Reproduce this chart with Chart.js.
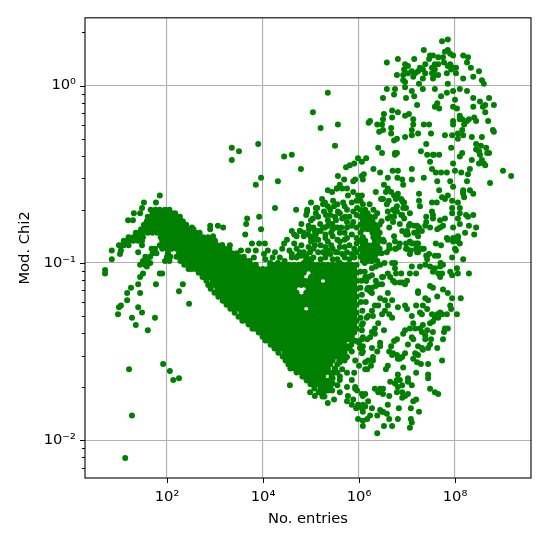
<!DOCTYPE html>
<html>
<head>
<meta charset="utf-8">
<style>html,body{margin:0;padding:0;background:#fff}canvas{display:block}</style>
<script src="https://cdn.jsdelivr.net/npm/chart.js@4"></script>
</head>
<body>
<canvas id="c" width="548" height="548"></canvas>
<script>
// All readings are log10(entries), log10(chi2).
const xAxisTicks = [1e2, 1e4, 1e6, 1e8];
const yAxisTicks = [1e-2, 1e-1, 1e0];
const yMinorTicks = [7e-3,8e-3,9e-3,2e-2,3e-2,4e-2,5e-2,6e-2,7e-2,8e-2,9e-2,.2,.3,.4,.5,.6,.7,.8,.9,2];
const xLabels = {2:"10²",4:"10⁴",6:"10⁶",8:"10⁸"};
const yLabels = {"-2":"10⁻²","-1":"10⁻¹","0":"10⁰"};

// The solid mass: individual points cannot be read there, so it is read row by row.
const solidRows = [
[-.70,[1.66,1.76,1.85,1.96,2.05]],
[-.72,[1.7,1.81,1.9,2.0,2.1,2.17]],
[-.74,[1.6,1.7,1.8,1.9,2.0,2.1,2.2,2.27]],
[-.765,[1.58,1.65,1.75,1.85,1.95,2.05,2.15,2.25,2.33]],
[-.785,[1.52,1.6,1.7,1.8,1.9,2.0,2.1,2.2,2.3,2.4]],
[-.81,[1.46,1.55,1.65,1.75,1.85,1.95,2.05,2.15,2.25,2.35,2.45,2.55]],
[-.83,[1.35,1.42,1.5,1.6,1.7,1.8,1.9,2,2.1,2.2,2.3,2.4,2.5,2.6,2.68]],
[-.855,[1.2,1.3,1.4,1.5,1.87,1.95,2.05,2.15,2.25,2.35,2.45,2.55,2.65,2.75,2.85]],
[-.875,[1.1,1.2,1.3,1.4,1.48,1.9,2.0,2.1,2.2,2.3,2.4,2.5,2.6,2.7,2.8,2.9,3.0]],
[-.90,[1.0,1.1,1.2,1.85,1.95,2.05,2.15,2.25,2.35,2.45,2.55,2.65,2.75,2.85,2.95,3.05,3.15]],
[-.92,[1.68,1.75,1.9,2.0,2.1,2.2,2.3,2.4,2.5,2.6,2.7,2.8,2.9,3.0,3.1,3.2,3.3]],
[-.945,[1.7,1.78,2.02,2.25,2.35,2.45,2.55,2.65,2.75,2.85,2.95,3.05,3.15,3.25,3.35,3.45]],
[-.965,[1.55,1.65,2.0,2.07,2.2,2.3,2.4,2.5,2.6,2.7,2.8,2.9,3.0,3.1,3.2,3.3,3.4,3.5,3.6]],
[-.99,[1.5,1.6,1.96,2.05,2.28,2.35,2.45,2.55,2.65,2.75,2.85,2.95,3.05,3.15,3.25,3.35,3.45,3.55,3.65,3.72]],
[-1.01,[1.44,1.54,2.36,2.45,2.55,2.65,2.75,2.85,2.95,3.05,3.15,3.25,3.35,3.45,3.55,3.65,3.75,3.85,4.15,4.25,4.36,4.45,4.55,4.65,4.75,4.86,4.95,5.05,5.15,5.25,5.35,5.45,5.55,5.65,5.75,5.85,5.95]],
[-1.034,[2.45,2.52,2.6,2.7,2.8,2.9,3.0,3.1,3.2,3.3,3.4,3.5,3.6,3.7,3.8,3.9,4.0,4.1,4.2,4.3,4.4,4.5,4.6,4.7,4.8,4.9,5.0,5.1,5.2,5.3,5.4,5.5,5.6,5.7,5.8,5.9]],
[-1.056,[2.66,2.75,2.85,2.95,3.05,3.15,3.25,3.35,3.45,3.55,3.65,3.75,3.85,3.95,4.05,4.15,4.25,4.35,4.45,4.55,4.65,4.75,4.85,5.05,5.15,5.25,5.35,5.45,5.55,5.65,5.75,5.85,5.95]],
[-1.079,[2.74,2.8,2.9,3.0,3.1,3.2,3.3,3.4,3.5,3.6,3.7,3.8,3.9,4.0,4.1,4.2,4.3,4.4,4.5,4.6,4.7,4.8,5.0,5.1,5.2,5.3,5.4,5.5,5.6,5.7,5.8,5.9]],
[-1.101,[2.82,2.95,3.05,3.15,3.25,3.35,3.45,3.55,3.65,3.75,3.85,3.95,4.05,4.15,4.25,4.35,4.45,4.55,4.65,4.75,4.85,4.95,5.05,5.15,5.35,5.45,5.55,5.65,5.75,5.85,5.95]],
[-1.124,[2.86,2.9,3.0,3.1,3.2,3.3,3.4,3.5,3.6,3.7,3.8,3.9,4.0,4.1,4.2,4.3,4.4,4.5,4.6,4.7,4.8,4.9,5.0,5.1,5.2,5.3,5.4,5.5,5.6,5.7,5.8,5.9]],
[-1.146,[2.91,3.05,3.15,3.25,3.35,3.45,3.55,3.65,3.75,3.85,3.95,4.05,4.15,4.25,4.35,4.45,4.55,4.65,4.95,5.05,5.15,5.25,5.35,5.45,5.55,5.65,5.75,5.85,5.95]],
[-1.169,[2.99,3.1,3.2,3.3,3.4,3.5,3.6,3.7,3.8,3.9,4.0,4.1,4.2,4.3,4.4,4.5,4.6,4.7,4.9,5.0,5.1,5.2,5.3,5.4,5.5,5.6,5.7,5.8,5.9]],
[-1.191,[3.07,3.15,3.25,3.35,3.45,3.55,3.65,3.75,3.85,3.95,4.05,4.15,4.25,4.35,4.45,4.55,4.65,4.75,4.85,4.95,5.05,5.15,5.25,5.35,5.45,5.55,5.65,5.75,5.85,5.95]],
[-1.213,[3.16,3.2,3.3,3.4,3.5,3.6,3.7,3.8,3.9,4.0,4.1,4.2,4.3,4.4,4.5,4.6,4.7,4.8,4.9,5.0,5.1,5.2,5.3,5.4,5.5,5.6,5.7,5.8,5.9]],
[-1.236,[3.24,3.35,3.45,3.55,3.65,3.75,3.85,3.95,4.05,4.15,4.25,4.35,4.45,4.55,4.65,4.75,4.85,4.95,5.05,5.15,5.25,5.35,5.45,5.55,5.65,5.75,5.85,5.95]],
[-1.258,[3.32,3.4,3.5,3.6,3.7,3.8,3.9,4.0,4.1,4.2,4.3,4.4,4.5,4.6,4.7,4.8,5.0,5.1,5.2,5.3,5.4,5.5,5.6,5.7,5.8,5.9]],
[-1.281,[3.41,3.55,3.65,3.75,3.85,3.95,4.05,4.15,4.25,4.35,4.45,4.55,4.65,4.75,4.85,4.95,5.05,5.15,5.25,5.35,5.45,5.55,5.65,5.75,5.85,5.95]],
[-1.303,[3.49,3.6,3.7,3.8,3.9,4.0,4.1,4.2,4.3,4.4,4.5,4.6,4.7,4.8,4.9,5.0,5.1,5.2,5.3,5.4,5.5,5.6,5.7,5.8,5.9]],
[-1.326,[3.57,3.65,3.75,3.85,3.95,4.05,4.15,4.25,4.35,4.45,4.55,4.65,4.75,4.85,4.95,5.05,5.15,5.25,5.35,5.45,5.55,5.65,5.75,5.85,5.95]],
[-1.348,[3.7,3.8,3.9,4.0,4.1,4.2,4.3,4.4,4.5,4.6,4.7,4.8,4.9,5.0,5.1,5.2,5.3,5.4,5.5,5.6,5.7,5.8,5.9]],
[-1.371,[3.78,3.85,3.95,4.05,4.15,4.25,4.35,4.45,4.55,4.65,4.75,4.85,4.95,5.05,5.15,5.25,5.35,5.45,5.55,5.65,5.75,5.85,5.95]],
[-1.393,[3.91,4.0,4.1,4.2,4.3,4.4,4.5,4.6,4.7,4.8,4.9,5.0,5.1,5.2,5.3,5.4,5.5,5.6,5.7,5.8,5.9]],
[-1.416,[3.99,4.05,4.15,4.25,4.35,4.45,4.55,4.65,4.75,4.85,4.95,5.05,5.15,5.25,5.35,5.45,5.55,5.65,5.75,5.85]],
[-1.438,[4.05,4.1,4.2,4.3,4.4,4.5,4.6,4.7,4.8,4.9,5.0,5.1,5.2,5.3,5.4,5.5,5.6,5.7,5.9]],
[-1.461,[4.16,4.25,4.35,4.45,4.55,4.65,4.75,4.85,4.95,5.05,5.15,5.25,5.35,5.45,5.55,5.65,5.84]],
[-1.483,[4.24,4.3,4.4,4.5,4.6,4.7,4.8,4.9,5.0,5.1,5.2,5.3,5.4,5.5,5.6,5.8]],
[-1.506,[4.32,4.45,4.55,4.65,4.75,4.85,4.95,5.05,5.15,5.25,5.35,5.45,5.55,5.7]],
[-1.528,[4.41,4.5,4.6,4.7,4.8,4.9,5.0,5.1,5.2,5.3,5.4,5.5,5.64]],
[-1.551,[4.47,4.55,4.65,4.75,4.85,4.95,5.05,5.15,5.25,5.35,5.45,5.59]],
[-1.573,[4.53,4.6,4.7,4.8,4.9,5.0,5.1,5.2,5.3,5.4,5.55]],
[-1.596,[4.57,4.65,4.75,4.85,4.95,5.05,5.15,5.25,5.35,5.5]],
[-1.618,[4.7,4.8,4.9,5.0,5.1,5.2,5.3,5.4,5.49]],
[-1.64,[4.82,4.85,4.95,5.05,5.15,5.25,5.43]],
[-1.663,[4.91,5.0,5.1,5.2,5.3,5.39]],
[-1.685,[4.99,5.05,5.15,5.25,5.34]],
[-1.708,[5.07,5.2,5.3]],
[-1.73,[5.16,5.26]],
[-1.753,[5.24,5.28]],
// the column just right of 10^6
[-.65,[6.03]],
[-.67,[6.08,6.22]],
[-.70,[6.03,6.13,6.3]],
[-.72,[6.08,6.18,6.38]],
[-.74,[6.03,6.13,6.23,6.33]],
[-.765,[6.08,6.18,6.28,6.47]],
[-.785,[6.03,6.13,6.23,6.33,6.43]],
[-.81,[6.08,6.18,6.28,6.38]],
[-.83,[6.03,6.28,6.33,6.43]],
[-.855,[6.08,6.3,6.4]],
[-.875,[6.03,6.13,6.33,6.45]],
[-.90,[6.08,6.18,6.28,6.38]],
[-.92,[6.03,6.13,6.23,6.33,6.43]],
[-.945,[6.08,6.18,6.28,6.38,6.47]],
[-.965,[6.03,6.13,6.23,6.33]],
[-.99,[6.08,6.18,6.28,6.38]],
[-1.05,[6.03,6.12]],[-1.1,[6.05,6.15]],[-1.14,[6.03]],[-1.18,[6.06]],[-1.22,[6.04,6.14]],[-1.27,[6.07]],[-1.31,[6.03,6.16]],[-1.35,[6.06]]
];

const leftWing = [[1.85,-.62],[1.77,-.66],[1.52,-.66],[1.48,-.69],[1.31,-.72],[1.44,-.72],[1.19,-.76],[1.29,-.76],
[.85,-.93],[.85,-.98],[.71,-1.04],[.71,-1.06],[1.06,-.90],[1.04,-.93],[1.02,-.95],[1.4,-.94],[1.48,-.90],
[1.85,-1.06],[1.9,-1.06],[1.77,-1.12],[1.44,-1.17],[2.33,-1.12],[2.25,-1.16],[2.46,-1.23],[1.4,-1.25],[1.48,-1.28],
[1.27,-1.31],[1.35,-1.35],[1.75,-1.31],[1.6,-1.38],[1.25,-1.14],[1.17,-1.17],[1.17,-1.21],[1.04,-1.24],[1,-1.25],[.98,-1.29],
[1.4,-1.12],[1.44,-1.08],[1.5,-1.06],[1.58,-1.02],[1.65,-1.0],[1.92,-1.57],[1.21,-1.60],[2.06,-1.61],[2.13,-1.66],[2.25,-1.65],[1.27,-1.86],[1.13,-2.10]];

const midSparse = [[2.9,-.79],[2.9,-.81],[3.06,-.79],[3.17,-.8],[2.96,-.85],[3.15,-.9],[3.31,-.9],[2.52,-.8],
[5.35,-.04],[5.04,-.15],[5.56,-.22],[5.2,-.24],[6.2,-.21],[3.9,-.33],[3.35,-.35],[3.5,-.37],[3.35,-.42],[5.5,-.34],[4.6,-.39],[4.44,-.4],[4.79,-.47],
[3.96,-.52],[3.85,-.56],[4.31,-.54],[4.25,-.69],[4.69,-.70],[4.92,-.70],[4.92,-.71],[3.67,-.75],[3.65,-.78],[3.92,-.74],[3.96,-.81],
[4.77,-.82],[4.96,-.81],[5.08,-.82],[3.63,-.84],[3.77,-.89],[3.92,-.89],[4.04,-.89],[3.54,-.93],[3.69,-.93],[3.85,-.93],[4.02,-.95],[3.81,-.97],
[4.44,-.89],[4.6,-.95],[4.77,-.94],[4.73,-.96],[5.0,-.88],[5.1,-.87],[5.35,-.88],[5.42,-.9],[4.9,-.96],[4.98,-.98],[4.15,-1.0],[4.31,-1.0],[4.85,-1.0],[5.0,-.99],[5.3,-.95],[5.52,-.94],[5.6,-1.0],
[4.65,-.84],[4.85,-.85],[5.04,-.85],[4.94,-.84],[5.3,-.84],[5.6,-.88],[5.75,-.86]];

const upperFringe = [[5.0,-.66],[5.1,-.69],[5.25,-.67],[5.4,-.7],[5.55,-.67],[5.7,-.68],[5.85,-.66],[5.95,-.65],
[4.9,-.73],[5.1,-.72],[5.35,-.76],[5.5,-.74],[5.65,-.75],[5.8,-.74],[5.95,-.73],
[4.8,-.78],[4.95,-.79],[5.05,-.8],[5.2,-.82],[5.35,-.79],[5.45,-.81],[5.55,-.8],[5.85,-.79],[5.95,-.8],
[4.6,-.82],[4.7,-.85],[4.85,-.83],[5.0,-.86],[5.15,-.87],[5.3,-.86],[5.45,-.85],[5.55,-.87],[5.7,-.87],[5.85,-.84],[5.95,-.86],
[4.5,-.87],[4.65,-.89],[4.8,-.9],[4.95,-.91],[5.05,-.92],[5.2,-.9],[5.3,-.91],[5.45,-.92],[5.6,-.91],[5.7,-.91],[5.8,-.9],[5.9,-.92],[5.95,-.89],
[4.1,-.93],[4.25,-.94],[4.4,-.92],[4.55,-.93],[4.7,-.92],[4.85,-.94],[4.98,-.94],[5.15,-.94],[5.25,-.94],[5.4,-.95],[5.55,-.94],[5.65,-.95],[5.75,-.94],[5.85,-.95],[5.95,-.94],
[4.05,-.98],[4.2,-.97],[4.35,-.97],[4.45,-.99],[4.6,-.97],[4.7,-.97],[4.8,-.96],[4.9,-.98],[5.05,-.97],[5.2,-.98],[5.3,-.97],[5.45,-.98],[5.55,-.98],[5.7,-.97],[5.8,-.98],[5.9,-.97]];

const ridge = [[5.98,-.41],[6.15,-.41],[6.06,-.43],[5.9,-.44],[5.81,-.45],[5.73,-.46],[5.56,-.51],[5.69,-.53],[5.92,-.53],[5.88,-.54],[6.06,-.51],[6.1,-.5],[6.08,-.53],
[5.54,-.58],[5.6,-.56],[5.54,-.58],[5.35,-.59],[5.44,-.6],[5.75,-.58],[5.65,-.58],[5.88,-.6],[5.77,-.62],[5.67,-.66],[5.98,-.62],[6.06,-.62],[5.46,-.65],
[5.23,-.64],[5.29,-.66],[5.35,-.68],[5.13,-.69],[5.48,-.68],[5.56,-.71],[5.75,-.70],[5.88,-.71],[5.04,-.75],[5.15,-.74],[5.27,-.71],[5.19,-.78],[5.29,-.80],
[5.52,-.76],[5.44,-.78],[5.71,-.74],[5.75,-.77],[5.88,-.77],[5.63,-.8],[4.77,-.82],[5.96,-.69],[5.31,-.73],[5.4,-.73],[5.0,-.76],[5.6,-.72],
[5.6,-.83],[5.5,-.8],[5.42,-.83],[5.15,-.82],[5.75,-.8],[5.25,-.8],[5.1,-.84],[5.08,-.9],[5.35,-.93],[5.7,-.83],
[6.3,-.47],[6.44,-.49],[6.6,-.52],[6.7,-.48],[6.8,-.52],[6.9,-.53],[6.6,-.58],[6.52,-.56],[6.92,-.56],[6.46,-.64],[6.56,-.6],
[6.35,-.6],[6.5,-.64],[6.62,-.65],[6.77,-.64],[6.81,-.61],[6.94,-.66],[6.58,-.67],[6.73,-.7],[6.71,-.7],
[6.6,-.71],[6.75,-.71],[6.6,-.75],[6.73,-.74],[6.85,-.78],[6.9,-.73],[7.06,-.78],[7.15,-.83],[7.0,-.83],[6.98,-.84],[7.15,-.89],[7.2,-.89],
[6.52,-.88],[6.63,-.9],[6.77,-.92],[6.63,-.92],[6.83,-.91],[6.75,-.92],[7.08,-.93],[7.21,-.94],[7.06,-.95],
[6.5,-.87],[6.44,-1.01],[6.2,-1.08],[6.65,-1.08],[6.77,-1.06],[6.88,-1.06],[6.4,-1.12],[6.5,-1.08],[6.15,-1.1],[6.35,-1.1],[6.27,-1.14],
[6.25,-.99],[6.53,-1.0],[6.58,-.94],[6.35,-1.02],[6.12,-1.0]];

const rightMid = [[6.75,-.38],[7.42,-.39],[7.54,-.39],[8.1,-.4],[8.5,-.37],[8.71,-.38],[8.35,-.42],[8.5,-.44],[8.6,-.44],[8.56,-.42],[8.63,-.45],
[7.48,-.43],[7.96,-.44],[8.31,-.47],[9.0,-.48],[9.17,-.51],[7.52,-.47],[7.6,-.49],[7.71,-.49],[7.83,-.49],[8.0,-.48],[8.13,-.49],[8.27,-.5],
[6.81,-.48],[7.1,-.47],[7.1,-.53],[7.35,-.52],[7.63,-.54],[7.9,-.54],[8.25,-.54],[8.73,-.55],[7.96,-.57],
[7.67,-.59],[7.25,-.61],[8.17,-.59],[8.17,-.6],[8.31,-.59],[8.38,-.61],[8.17,-.61],[8.19,-.63],[7.85,-.62],[7.73,-.63],[7.79,-.64],[7.94,-.65],
[7.52,-.66],[7.62,-.66],[7.25,-.65],[7.27,-.68],[8.06,-.66],[8.1,-.69],[8.1,-.72],[8.06,-.75],[7.94,-.69],[7.94,-.72],
[6.98,-.69],[7.06,-.72],[6.92,-.66],[6.92,-.69],[7.52,-.71],[7.54,-.73],[7.54,-.75],[7.4,-.74],[7.4,-.77],
[8.23,-.73],[8.38,-.73],[8.27,-.74],[7.69,-.76],[7.79,-.75],[8.1,-.78],[8.29,-.79],[8.44,-.8],[8.21,-.83],[8.4,-.84],
[7.75,-.79],[7.69,-.8],[7.63,-.81],[7.96,-.8],[6.79,-.62],[6.67,-.6],[6.73,-.62],[6.88,-.64],[6.9,-.65],
[6.79,-.68],[6.79,-.71],[6.88,-.73],[6.94,-.75],[6.65,-.74],[6.71,-.77],[7.04,-.79],[7.15,-.79],[7.21,-.79],[7.25,-.8],[7.38,-.79],[7.48,-.8],
[6.9,-.82],[7.0,-.82],[7.02,-.84],[7.23,-.82],[7.31,-.82],[7.23,-.85],[7.23,-.89],[7.31,-.92],[7.23,-.94],[6.73,-.85],[6.63,-.8],
[7.83,-.86],[7.96,-.86],[8.06,-.86],[7.85,-.87],[8.06,-.85],[8.06,-.88],[7.96,-.88],[8.1,-.89],[7.6,-.89],[7.71,-.9],
[7.06,-.88],[6.98,-.89],[7.1,-.89],[6.75,-.88],[6.85,-.89],[6.98,-.92],[7.0,-.92],[7.19,-.92],[7.27,-.92],[7.35,-.92],[7.4,-.96],[7.46,-.95],[7.58,-.96],[7.65,-.96],
[8.0,-.92],[8.02,-.93],[7.42,-.98],[7.7,-1.0],[7.94,-.97],[8.17,-.98],
[6.69,-1.0],[6.75,-1.0],[6.75,-1.03],[7.1,-1.02],[7.27,-1.02],[7.38,-1.01],[7.48,-1.02],[7.58,-1.03],[7.69,-1.02],[7.75,-1.01],
[7.06,-1.06],[7.19,-1.06],[7.54,-1.05],[7.65,-1.06],[7.73,-1.06],[7.69,-1.08],[7.9,-1.05],[7.94,-1.07],[8.04,-1.03],[8.06,-1.06],[8.29,-1.06]];

const topCloud = [[7.85,.26],[7.73,.25],[7.35,.2],[7.54,.17],
[6.58,.13],[6.81,.15],[7.15,.15],[7.48,.17],[7.79,.19],[7.85,.2],[7.9,.18],[7.96,.17],[7.75,.16],[7.65,.16],
[8.17,.17],[8.27,.16],[8.25,.13],[8.33,.1],[8.5,.08],[7.46,.15],[7.38,.12],[7.58,.12],[7.77,.13],[7.9,.12],[7.85,.11],[7.96,.1],[7.65,.12],
[6.96,.12],[7.02,.11],[6.94,.09],[7.27,.1],[7.33,.09],[7.23,.08],[7.38,.07],[7.17,.07],[7.1,.08],
[7.52,.1],[7.58,.09],[7.52,.07],[7.58,.06],[7.65,.06],[7.83,.07],[7.92,.09],[8.02,.1],[8.02,.07],
[6.79,.06],[6.92,.06],[7.02,.07],[7.13,.05],[6.92,.03],[6.96,.02],[7.33,.04],[7.25,.01],[7.54,.04],
[8.17,.04],[8.38,.05],[8.56,.03],[8.6,.01],[7.85,.01],
[6.96,-.01],[6.58,-.02],[6.75,-.02],[6.73,-.05],[6.5,-.07],[7.1,-.03],[7.15,-.06],[6.98,-.07],[7.21,-.11],
[7.33,-.02],[7.58,-.02],[7.83,-.04],[7.96,-.03],[8.1,-.02],[8.25,-.03],[7.71,-.06],[8.0,-.08],[7.63,-.1],[7.58,-.12],[7.67,-.13],
[8.38,-.07],[8.52,-.09],[8.63,-.11],[8.38,-.12],[8.58,-.12],[8.63,-.15],[8.71,-.07],[8.81,-.11],[7.96,-.12],[8.04,-.13],[8.1,-.17],
[6.52,-.16],[6.69,-.14],[6.81,-.15],[6.69,-.18],[6.96,-.17],[7.04,-.16],[7.13,-.19],[6.23,-.2],[6.38,-.22],[6.5,-.19],[6.48,-.22],
[8.29,-.19],[8.25,-.2],[8.1,-.19],[8.15,-.19],[8.19,-.22],[8.4,-.18],[8.44,-.2],[8.69,-.2],
[6.67,-.24],[7.13,-.22],[7.35,-.22],[7.46,-.22],[7.96,-.2],[7.96,-.22],[8.15,-.25],[8.81,-.26],[7.1,-.25],[6.5,-.25],[6.42,-.26],
[6.67,-.27],[6.79,-.3],[6.73,-.31],[6.96,-.29],[7.1,-.28],[7.23,-.27],[7.5,-.27],[7.79,-.28],[7.94,-.28],[8.06,-.27],[8.17,-.28],[8.06,-.3],
[8.35,-.29],[8.56,-.29],[8.44,-.33],[8.54,-.34],[8.65,-.35],[8.67,-.38],[8.44,-.36],
[7.4,-.33],[8.79,-.25],[7.92,-.35],[7.29,-.37],[8.15,-.38],[6.4,-.35],[6.48,-.38],[6.79,-.38],[6.75,-.39],[7.56,-.39],[7.67,-.39],[8.52,-.39]];

const rightLower = [[6.27,-1.03],[6.48,-1.08],[6.6,-1.06],[6.13,-1.08],[6.27,-1.07],[6.19,-1.14],[6.71,-1.1],[6.85,-1.11],[7,-1.1],
[6.48,-1.12],[6.35,-1.13],[6.17,-1.15],[6.27,-1.17],[6.23,-1.16],[6.44,-1.2],[6.6,-1.17],[6.54,-1.21],
[6.69,-1.21],[6.6,-1.24],[6.54,-1.27],[6.4,-1.24],[6.33,-1.24],[6.48,-1.29],[6.27,-1.27],[6.19,-1.3],[6.29,-1.3],[6.08,-1.34],[6.69,-1.31],[6.63,-1.29],
[6.75,-1.11],[6.96,-1.12],[6.9,-1.11],[7.23,-1.16],[7.23,-1.17],[7.48,-1.13],[7.54,-1.14],[7.63,-1.19],[7.75,-1.15],[7.85,-1.17],[7.94,-1.2],[8.12,-1.2],
[6.81,-1.25],[6.96,-1.24],[7,-1.26],[7.19,-1.24],[7.38,-1.2],[7.44,-1.21],[7.33,-1.24],[7.27,-1.28],[7.31,-1.29],[7.42,-1.26],
[7.1,-1.3],[7.9,-1.24],[7.92,-1.26],[7.83,-1.29],[8.04,-1.29],
[7.52,-1.29],[7.63,-1.29],[7.69,-1.28],[7.58,-1.31],[7.65,-1.31],[7.54,-1.33],[7.48,-1.34],[7.73,-1.29],
[7.85,-1.37],[7.79,-1.37],[7.77,-1.39],[7.75,-1.43],[7.54,-1.39],[7.42,-1.38],[7.33,-1.35],[7.38,-1.41],[7.5,-1.43],[7.48,-1.46],[7.44,-1.48],[7.38,-1.43],[7.23,-1.47],[7.31,-1.48],[7.63,-1.48],
[7.13,-1.34],[7.17,-1.37],[7.06,-1.37],[7.27,-1.37],[7.31,-1.39],[6.96,-1.38],[6.92,-1.4],[6.52,-1.38],[6.33,-1.37],[6.4,-1.34],[6.27,-1.39],[6.33,-1.4],
[7.1,-1.42],[7.02,-1.46],[7.13,-1.43],[6.79,-1.43],[6.73,-1.44],[6.44,-1.45],[6.44,-1.47],[6.23,-1.42],[6.27,-1.48],[6.38,-1.5],[6.06,-1.43],[6.08,-1.47],[6.06,-1.51],
[6.67,-1.47],[6.63,-1.5],[6.71,-1.51],[6.69,-1.52],[6.79,-1.52],[6.96,-1.51],[6.9,-1.53],[6.85,-1.54],[6.81,-1.54],
[7.33,-1.49],[7.23,-1.52],[7.17,-1.51],[7.13,-1.54],[7.21,-1.56],[7.29,-1.57],[7.73,-1.55],[7.44,-1.57],
[6.29,-1.53],[6.19,-1.55],[6.13,-1.56],[6.29,-1.55],[6.25,-1.58],[6.13,-1.6],[6.6,-1.58],[6.56,-1.6],[6.92,-1.59],
[7.19,-1.62],[6.81,-1.63],[7.02,-1.65],[7.44,-1.63],[7.44,-1.65],
[6.79,-1.66],[6.85,-1.66],[6.65,-1.67],[6.75,-1.68],[6.9,-1.69],[7.02,-1.67],[7.1,-1.69],[6.81,-1.7],[6.79,-1.73],[6.9,-1.73],[7.02,-1.74],[6.96,-1.75],[6.9,-1.76],
[7.48,-1.71],[7.58,-1.73],[7.65,-1.74],[6.33,-1.71],[6.44,-1.71],[6.5,-1.71],[6.4,-1.73],[6.5,-1.74],[6.63,-1.75],
[7.19,-1.77],[7.13,-1.78],[6.6,-1.8],[6.83,-1.82],[7.08,-1.82],[7.25,-1.84],
[5.96,-1.72],[5.92,-1.7],[6.06,-1.74],[6.13,-1.74],[5.88,-1.77],[6.19,-1.78],[6.08,-1.8],[6.06,-1.82],[6.13,-1.81],[5.94,-1.82],
[6.08,-1.84],[6.27,-1.82],[6.44,-1.83],[6.5,-1.84],[6.58,-1.85],[6.38,-1.86],[6.48,-1.84],[6.23,-1.86],[6.17,-1.88],[6.08,-1.89],[5.98,-1.88],[6.08,-1.92],
[6.63,-1.88],[6.81,-1.88],[7.08,-1.88],[7.1,-1.9],[6.52,-1.92],[6.69,-1.92],[7.06,-1.93],[6.38,-1.96]];

const lowerEdge = [[4.56,-1.69],[4.98,-1.73],[5.08,-1.75],[5.23,-1.74],[5.44,-1.72],[5.6,-1.73],[5.77,-1.75],[5.92,-1.71],[6.08,-1.75],[5.6,-1.66],[5.75,-1.62],
[5.92,-1.55],[6.17,-1.6],[6.02,-1.48],[6.08,-1.5],[6.08,-1.42],[6.17,-1.43],[5.77,-1.48],[5.75,-1.53],[6.06,-1.38],[6.0,-1.45],[5.35,-1.79],[5.48,-1.77],[5.75,-1.78],[5.98,-1.8],[5.85,-1.8],
[5.7,-1.44],[5.8,-1.43],[5.95,-1.44],[5.75,-1.47],[5.7,-1.49],[5.65,-1.51],[5.85,-1.5],[5.6,-1.53],[5.7,-1.55],[5.6,-1.56],[5.5,-1.6],[5.65,-1.6],[5.55,-1.62],[5.45,-1.65],[5.6,-1.64],[5.45,-1.68],[5.4,-1.7],[5.55,-1.69],[5.35,-1.72],[5.9,-1.62],[5.85,-1.66],[6.0,-1.58],[5.75,-1.7]];

const pointLists = [leftWing, midSparse, upperFringe, ridge, rightMid, topCloud, rightLower, lowerEdge];
const points = [];
for (const [ly, lxs] of solidRows) for (const lx of lxs) points.push({x: 10 ** lx, y: 10 ** ly});
for (const list of pointLists) for (const [lx, ly] of list) points.push({x: 10 ** lx, y: 10 ** ly});

const FONT = "'DejaVu Sans'";
const frame = {
  id: 'frame',
  afterDatasetsDraw(chart) {
    const {ctx, chartArea: a, scales: {x, y}} = chart;
    ctx.save();
    ctx.strokeStyle = '#000';
    ctx.lineWidth = 1;
    ctx.beginPath();
    for (const v of xAxisTicks) { const p = Math.round(x.getPixelForValue(v)) + .5; ctx.moveTo(p, a.bottom); ctx.lineTo(p, a.bottom + 5); }
    for (const v of yAxisTicks) { const p = Math.round(y.getPixelForValue(v)) + .5; ctx.moveTo(a.left, p); ctx.lineTo(a.left - 5, p); }
    for (const v of yMinorTicks) { const p = Math.round(y.getPixelForValue(v)) + .5; ctx.moveTo(a.left, p); ctx.lineTo(a.left - 3, p); }
    ctx.stroke();
    ctx.lineWidth = 1.1;
    ctx.strokeRect(a.left, a.top, a.right - a.left, a.bottom - a.top);
    ctx.restore();
  }
};

new Chart(document.getElementById('c'), {
  type: 'scatter',
  data: {datasets: [{data: points, backgroundColor: '#008000', borderWidth: 0, pointRadius: 3, pointHoverRadius: 3}]},
  options: {
    responsive: false,
    animation: false,
    events: [],
    layout: {padding: {top: 16, right: 17, left: 0, bottom: 0}},
    plugins: {legend: {display: false}, tooltip: {enabled: false}},
    scales: {
      x: {
        type: 'logarithmic',
        min: 10 ** 0.292, max: 10 ** 9.583,
        afterBuildTicks(s) { s.ticks = xAxisTicks.map(v => ({value: v, major: true})); },
        afterFit(s) { s.height = 70; },
        grid: {color: '#b0b0b0', lineWidth: 1.1, drawTicks: false},
        border: {display: false},
        ticks: {color: '#000', padding: 10, maxRotation: 0, autoSkip: false, font: {family: FONT, size: 14.7},
          callback: v => xLabels[Math.round(Math.log10(v))]},
        title: {display: true, text: 'No. entries', color: '#000', font: {family: FONT, size: 14.7}, padding: {top: 4, bottom: 20}}
      },
      y: {
        type: 'logarithmic',
        min: 10 ** -2.213, max: 10 ** 0.382,
        afterBuildTicks(s) { s.ticks = yAxisTicks.map(v => ({value: v, major: true})); },
        afterFit(s) { s.width = 85; },
        grid: {color: '#b0b0b0', lineWidth: 1.1, drawTicks: false},
        border: {display: false},
        ticks: {color: '#000', padding: 9, autoSkip: false, font: {family: FONT, size: 14.7},
          callback: v => yLabels[String(Math.round(Math.log10(v)))]},
        title: {display: true, text: 'Mod. Chi2', color: '#000', font: {family: FONT, size: 14.7}, padding: {top: 16, bottom: 4}}
      }
    }
  },
  plugins: [frame]
});
</script>
</body>
</html>
